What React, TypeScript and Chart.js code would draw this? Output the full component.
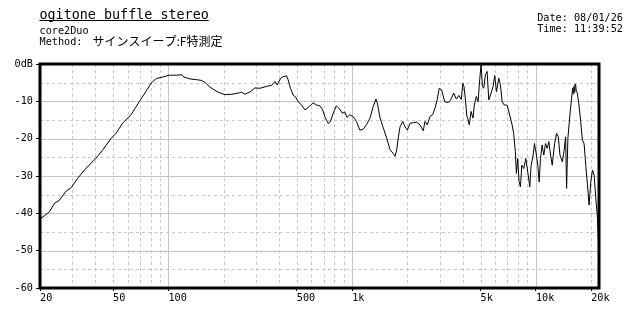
import { useEffect, useRef } from "react";
import { Chart, registerables } from "chart.js";

Chart.register(...registerables);

// ---- data ----
const freqs = [
  20, 21.2, 22.5, 24.0, 25.5, 27.8, 29.6, 32.1, 34.9, 40.4, 43.9, 48.8, 52, 56.4, 62.6, 69.6, 75.6, 80.6, 85.8, 93,
  101, 110.8, 118, 121.5, 130.9, 142.4, 151.6, 157.9, 166.7, 175, 186.6, 203, 221, 239.6, 250, 260.7, 277.7, 295.7,
  314.7, 342.4, 364.7, 380, 391, 408, 421.3, 439.6, 448, 461.5, 477, 493.5, 508, 531, 553.5, 584, 613, 640, 667, 690,
  710, 740, 762, 788, 820, 856, 885, 911, 938, 970, 1011, 1056, 1101, 1148, 1196, 1250, 1302, 1347, 1371, 1419, 1479,
  1542, 1608, 1676, 1712, 1748, 1785, 1822, 1885, 1940, 1997, 2065, 2152, 2243, 2338, 2437, 2490, 2563, 2650, 2740,
  2820, 2903, 2977, 3063, 3190, 3325, 3420, 3468, 3570, 3690, 3810, 3925, 4005, 4060, 4128, 4210, 4250, 4340, 4435,
  4547, 4620, 4740, 4845, 4943, 5031, 5117, 5200, 5310, 5425, 5540, 5660, 5850, 5970, 6100, 6280, 6410, 6550, 6740,
  6970, 7200, 7420, 7570, 7730, 7830, 7960, 8100, 8240, 8380, 8590, 8810, 9030, 9260, 9420, 9660, 9820, 10070, 10240,
  10420, 10590, 10810, 11040, 11280, 11520, 11760, 12020, 12270, 12640, 12960, 13240, 13520, 13920, 14210, 14510,
  14690, 14930, 15310, 15700, 15850, 15950, 16100, 16200, 16300, 16450, 16550, 16800, 17160, 17530, 17900, 18290,
  18680, 19080, 19480, 19890, 20320, 20740, 21190, 21640, 21910, 22050,
];
const levels = [
  -41.5, -40.6, -39.6, -37.3, -36.5, -34.0, -33.1, -30.6, -28.4, -25.2, -23.0, -19.9, -18.5, -15.8, -13.6, -10.0, -7.3,
  -5.1, -3.9, -3.5, -3.0, -3.0, -2.9, -3.5, -4.0, -4.2, -4.4, -4.9, -6.0, -6.75, -7.55, -8.2, -8.1, -7.8, -7.55, -8.1,
  -7.5, -6.4, -6.5, -6.0, -5.7, -4.7, -5.6, -3.8, -3.35, -3.2, -4.2, -6.5, -8.3, -8.9, -10.1, -11.0, -12.3, -11.4,
  -10.4, -11.0, -11.2, -12.2, -14.1, -15.9, -15.4, -13.2, -11.2, -12.1, -13.2, -12.8, -14.3, -13.6, -14.1, -15.4,
  -17.7, -17.5, -16.3, -14.5, -11.4, -9.4, -10.5, -14.5, -17.2, -19.9, -23.0, -24.0, -24.7, -23.0, -19.5, -16.8,
  -15.4, -16.8, -17.7, -15.9, -15.7, -15.6, -16.3, -17.9, -15.4, -16.3, -14.1, -13.6, -11.9, -9.6, -6.5, -6.9, -10.1,
  -10.3, -9.8, -9.2, -7.8, -9.4, -8.4, -9.5, -5.2, -6.0, -9.2, -14.0, -14.5, -16.3, -12.7, -14.5, -11.0, -8.7, -10.1,
  -4.2, -0.2, -6.0, -6.5, -2.9, -2.0, -9.6, -8.3, -6.0, -3.1, -7.4, -3.8, -5.6, -10.1, -11.0, -11.0, -13.7, -16.3,
  -18.6, -23.5, -29.3, -25.3, -31.6, -32.9, -27.1, -28.0, -25.3, -28.9, -32.9, -27.1, -24.4, -21.3, -24.4, -27.1,
  -31.6, -25.3, -21.7, -24.4, -21.3, -22.6, -20.8, -24.4, -27.1, -21.3, -18.6, -19.5, -24.4, -26.2, -23.5, -19.5,
  -33.3, -19.9, -13.7, -8.3, -6.5, -8.0, -6.0, -7.5, -5.5, -5.4, -7.0, -7.8, -11.0, -15.4, -20.4, -21.3, -27.1,
  -32.4, -37.8, -31.6, -28.4, -29.8, -36.0, -41.4, -48.6, -57.0,
];

const xMin = 20;
const xMax = 22050;
const yMin = -60;
const yMax = 0;

const xLabelValues = [20, 50, 100, 500, 1000, 5000, 10000, 20000];
const xLabelTexts = ["20", "50", "100", "500", "1k", "5k", "10k", "20k"];
const yLabelValues = [0, -10, -20, -30, -40, -50, -60];
const yLabelTexts = ["0dB", "-10", "-20", "-30", "-40", "-50", "-60"];

const xGridValues = [
  30, 40, 50, 60, 70, 80, 90, 100, 200, 300, 400, 500, 600, 700, 800, 900, 1000, 2000, 3000, 4000, 5000, 6000, 7000,
  8000, 9000, 10000, 20000,
];
const xMajorValues = [100, 1000, 10000];
const yGridValues = [-5, -10, -15, -20, -25, -30, -35, -40, -45, -50, -55];
const yMajorValues = [-10, -20, -30, -40, -50];

const titleText = "ogitone buffle stereo";
const subText = "core2Duo";
const methodLabel = "Method:";
const methodText = "サインスイープ:F特測定";
const dateText = "Date: 08/01/26";
const timeText = "Time: 11:39:52";

const MONO = "'DejaVu Sans Mono', monospace";
const JP = "'Noto Sans CJK JP', sans-serif";

const gridFramePlugin = {
  id: "gridFrame",
  beforeDatasetsDraw(chart: any) {
    const { ctx, chartArea } = chart;
    const { left, right, top, bottom } = chartArea;
    const xs = chart.scales.x;
    const ys = chart.scales.y;
    ctx.save();
    ctx.lineWidth = 1;
    for (const v of xGridValues) {
      const major = xMajorValues.includes(v);
      const px = Math.round(xs.getPixelForValue(v)) + 0.5;
      ctx.strokeStyle = major ? "#c4c4c4" : "#c8c8c8";
      ctx.setLineDash(major ? [] : [3, 3]);
      ctx.beginPath();
      ctx.moveTo(px, top);
      ctx.lineTo(px, bottom);
      ctx.stroke();
    }
    for (const v of yGridValues) {
      const major = yMajorValues.includes(v);
      const py = Math.round(ys.getPixelForValue(v)) + 0.5;
      ctx.strokeStyle = major ? "#c4c4c4" : "#c8c8c8";
      ctx.setLineDash(major ? [] : [3, 3]);
      ctx.beginPath();
      ctx.moveTo(left, py);
      ctx.lineTo(right, py);
      ctx.stroke();
    }
    ctx.restore();
  },
  afterDatasetsDraw(chart: any) {
    const { ctx, chartArea } = chart;
    const { left, right, top, bottom } = chartArea;
    ctx.save();
    ctx.setLineDash([]);
    ctx.strokeStyle = "#000";
    ctx.lineWidth = 3;
    ctx.strokeRect(left, top, right - left, bottom - top);
    ctx.restore();
  },
  afterDraw(chart: any) {
    const { ctx } = chart;
    ctx.save();
    ctx.fillStyle = "#000";
    ctx.textBaseline = "alphabetic";
    ctx.textAlign = "left";
    ctx.font = `13.4px ${MONO}`;
    ctx.fillText(titleText, 39.5, 18.5);
    const w = ctx.measureText(titleText).width;
    ctx.fillRect(39.5, 20, w, 1);
    ctx.font = `10.2px ${MONO}`;
    ctx.fillText(subText, 39.5, 33.5);
    ctx.fillText(methodLabel, 39.5, 45);
    ctx.font = `12px ${JP}`;
    ctx.fillText(methodText, 92.5, 46);
    ctx.font = `10.2px ${MONO}`;
    ctx.textAlign = "right";
    ctx.fillText(dateText, 623, 20.5);
    ctx.fillText(timeText, 623, 31.5);
    ctx.restore();
  },
};

export default function App() {
  const ref = useRef<HTMLCanvasElement | null>(null);
  useEffect(() => {
    if (!ref.current) return;
    const chart = new Chart(ref.current, {
      type: "line",
      data: {
        datasets: [
          {
            data: freqs.map((f, i) => ({ x: f, y: levels[i] })),
            borderColor: "#000",
            borderWidth: 1,
            pointRadius: 0,
            tension: 0,
            fill: false,
          },
        ],
      },
      options: {
        animation: false,
        responsive: false,
        devicePixelRatio: 1,
        layout: { padding: { left: 0, top: 64, right: 41, bottom: 0 } },
        plugins: { legend: { display: false }, tooltip: { enabled: false }, title: { display: false } },
        scales: {
          x: {
            type: "logarithmic",
            position: "bottom",
            min: xMin,
            max: xMax,
            afterBuildTicks: (s: any) => {
              s.ticks = xLabelValues.map((v) => ({ value: v }));
            },
            afterFit: (s: any) => {
              s.height = 32;
            },
            ticks: {
              autoSkip: false,
              maxRotation: 0,
              minRotation: 0,
              align: "start",
              padding: 1,
              color: "#000",
              font: { family: MONO, size: 10.2 },
              callback: (_v: any, i: number) => xLabelTexts[i],
            },
            grid: { drawOnChartArea: false, drawTicks: true, tickLength: 3, tickColor: "#000", tickWidth: 1 },
            border: { display: false },
          },
          y: {
            type: "linear",
            min: yMin,
            max: yMax,
            afterBuildTicks: (s: any) => {
              s.ticks = yLabelValues.map((v) => ({ value: v }));
            },
            afterFit: (s: any) => {
              s.width = 40;
            },
            ticks: {
              autoSkip: false,
              padding: 3,
              color: "#000",
              font: { family: MONO, size: 10.2 },
              callback: (_v: any, i: number) => yLabelTexts[i],
            },
            grid: { drawOnChartArea: false, drawTicks: true, tickLength: 4, tickColor: "#000", tickWidth: 1 },
            border: { display: false },
          },
        },
      },
      plugins: [gridFramePlugin],
    } as any);
    return () => chart.destroy();
  }, []);
  return (
    <div style={{ position: "absolute", left: 0, top: 0, width: 640, height: 320, background: "#fff" }}>
      <canvas ref={ref} width={640} height={320} style={{ display: "block", width: 640, height: 320 }} />
    </div>
  );
}
